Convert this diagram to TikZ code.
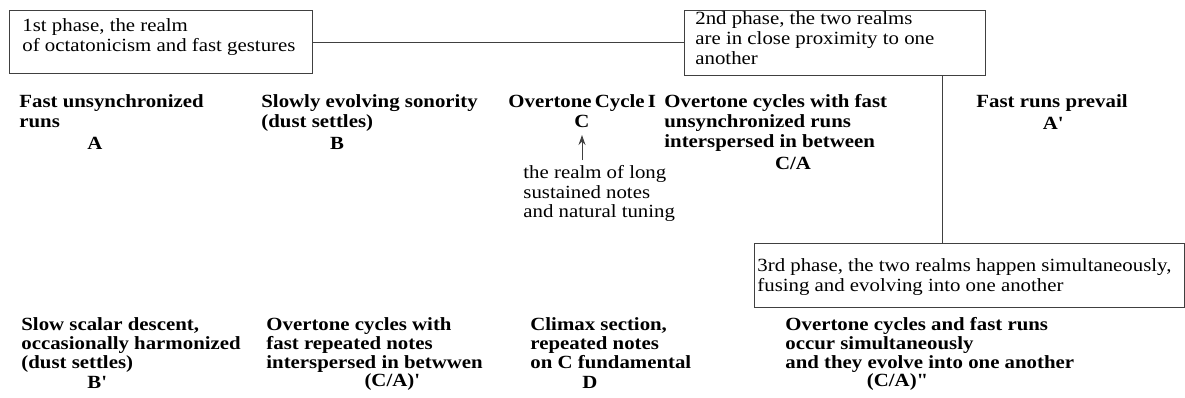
\documentclass[tikz,border=0pt]{standalone}
\usepackage{fontspec}
\setmainfont{Liberation Serif}[FakeStretch=1.12]
\usetikzlibrary{arrows.meta}
\begin{document}
\begin{tikzpicture}[x=0.5pt,y=-0.5pt,
  phasebox/.style={draw=black!75,line width=0.5pt},
  link/.style={draw=black!75,line width=0.5pt},
  boldtxt/.style={font=\fontsize{9.3}{10}\selectfont\bfseries,align=left,inner sep=0pt,anchor=north west},
  boldtxtb/.style={font=\fontsize{9.3}{9.5}\selectfont\bfseries,align=left,inner sep=0pt,anchor=north west},
  lettxt/.style={font=\fontsize{9.3}{10}\selectfont\bfseries,inner sep=0pt},
  plaintxt/.style={font=\fontsize{9.3}{9.8}\selectfont,align=left,inner sep=0pt,anchor=north west},
  boxtxt/.style={font=\fontsize{9.3}{10}\selectfont,align=left,inner sep=0pt,anchor=north west}]
\useasboundingbox (0,0) rectangle (1185,397);
% phase boxes
\draw[phasebox] (9,10) rectangle (312,73);
\node[boxtxt] (p1) at (22,18) {1st phase, the realm\\of octatonicism and fast gestures};
\coordinate (b1e) at (312,42);
\draw[phasebox] (684,10) rectangle (985,75);
\node[boxtxt] (p2) at (695,11) {2nd phase, the two realms\\are in close proximity to one\\another};
\coordinate (b2w) at (684,42);
\coordinate (b2s) at (942,75);
\draw[phasebox] (754,243) rectangle (1184,307);
\node[boxtxt] (p3) at (757,258) {3rd phase, the two realms happen simultaneously,\\fusing and evolving into one another};
\coordinate (b3n) at (942,243);
\draw[link] (b1e) -- (b2w);
\draw[link] (b2s) -- (b3n);
% top row
\node[boldtxt] (t1) at (19,94) {Fast unsynchronized\\runs};
\node[lettxt] (lA) at (95,143) {A};
\node[boldtxt] (t2) at (261,94) {Slowly evolving sonority\\(dust settles)};
\node[lettxt] (lB) at (337,143) {B};
\node[boldtxt] (t3) at (508,94) {\spaceskip=0.17em Overtone Cycle I};
\node[lettxt] (lC) at (582,121) {C};
\node[plaintxt] (note) at (523,165) {the realm of long\\sustained notes\\and natural tuning};
\coordinate (noteTop) at (582,160);
\coordinate (arrTip) at (582,135);
\draw[link,-{Stealth[length=5pt,width=3.5pt]}] (noteTop) -- (arrTip);
\node[boldtxt] (t4) at (664,94) {Overtone cycles with fast\\unsynchronized runs\\interspersed in between};
\node[lettxt] (lCA) at (793,163) {C/A};
\node[boldtxt] (t5) at (976,94) {Fast runs prevail};
\node[lettxt] (lAp) at (1053,123) {A\textquotesingle};
% bottom row
\node[boldtxtb] (u1) at (21,317) {Slow scalar descent,\\occasionally harmonized\\(dust settles)};
\node[lettxt] (lBp) at (97,382) {B\textquotesingle};
\node[boldtxtb] (u2) at (266,317) {Overtone cycles with\\fast repeated notes\\interspersed in betwwen};
\node[lettxt] (lCAp) at (392,382) {(C/A)\textquotesingle};
\node[boldtxtb] (u3) at (530,317) {Climax section,\\repeated notes\\on C fundamental};
\node[lettxt] (lD) at (590,382) {D};
\node[boldtxtb] (u4) at (785,317) {Overtone cycles and fast runs\\occur simultaneously\\and they evolve into one another};
\node[lettxt] (lCApp) at (897,382) {(C/A)\textquotedbl};
\end{tikzpicture}
\end{document}
